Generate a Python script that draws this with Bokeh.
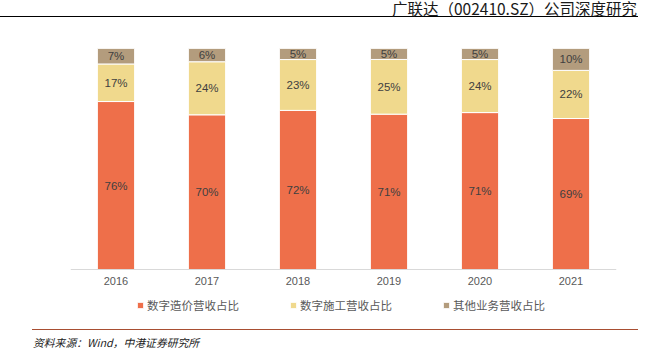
import numpy as np
from bokeh.plotting import figure
from bokeh.models import ColumnDataSource, Range1d, FactorRange, Div, CategoricalAxis
from bokeh.core.properties import value
from bokeh.layouts import column
from bokeh.embed import file_html
from bokeh.resources import INLINE

# ---- data ----
years = ["2016", "2017", "2018", "2019", "2020", "2021"]
pricing = [76, 70, 72, 71, 71, 69]      # 数字造价营收占比
construction = [17, 24, 23, 25, 24, 22]  # 数字施工营收占比
other = [7, 6, 5, 5, 5, 10]              # 其他业务营收占比
series_names = ["数字造价营收占比", "数字施工营收占比", "其他业务营收占比"]
colors = ["#EE6F4A", "#F0D98D", "#B39C7D"]
title_text = "广联达（002410.SZ）公司深度研究"
source_text = "资料来源：Wind，中港证券研究所"

W = 654
CJK = "Noto Sans CJK SC"
LAT = "Liberation Sans"

# ---- header (HTML) ----
hdr_html = (
    '<div style="position:relative;width:654px;height:24px;">'
    '<div style="position:absolute;left:0px;top:16px;width:638px;height:0px;'
    'border-top:1.6px solid #000;"></div>'
    '<div style="position:absolute;right:17px;top:1px;font-family:\'Noto Sans CJK SC\';'
    'font-size:15.5px;line-height:15px;color:#1a1a1a;white-space:nowrap;">'
    + title_text + '</div></div>'
)
hdr = Div(text=hdr_html, width=W, height=24, margin=0)

# ---- main chart ----
raw = np.array([pricing, construction, other], dtype=float)
shares = raw / raw.sum(axis=0)
keys = ["s0", "s1", "s2"]
data = {"years": years}
for k, row in zip(keys, shares):
    data[k] = row
src = ColumnDataSource(data)

PX_PER_UNIT = 221.0   # pixels for 100%
BELOW = 53.0          # pixels of frame below the baseline
p = figure(width=W, height=298, output_backend="svg", toolbar_location=None,
           x_range=FactorRange(*years, range_padding=0),
           y_range=Range1d(-BELOW / PX_PER_UNIT, 1),
           x_axis_location=None, y_axis_location=None,
           min_border_left=70, min_border_right=38, min_border_top=24,
           min_border_bottom=0)
p.vbar_stack(keys, x="years", width=0.41, color=colors, source=src,
             line_color="white", line_width=1, legend_label=series_names)

# segment labels
lx, ly, lt = [], [], []
cum = np.zeros(len(years))
for row, rawrow in zip(shares, raw):
    mids = cum + row / 2
    for i, yr in enumerate(years):
        lx.append(yr)
        ly.append(mids[i])
        lt.append(f"{int(rawrow[i])}%")
    cum = cum + row
p.text(x=lx, y=ly, text=lt, text_align="center", text_baseline="middle",
       text_font=value(LAT), text_font_size="11.5px", text_color="#404040")

xax = CategoricalAxis(fixed_location=0)
xax.axis_line_color = "#D9D9D9"
xax.axis_line_width = 1
xax.major_tick_line_color = None
xax.major_tick_out = 0
xax.major_tick_in = 0
xax.minor_tick_line_color = None
xax.major_label_standoff = 7
xax.major_label_text_font = LAT
xax.major_label_text_font_size = "11px"
xax.major_label_text_color = "#595959"
p.add_layout(xax, "below")

p.grid.visible = False
p.outline_line_color = None

lg = p.legend[0]
lg.orientation = "horizontal"
lg.location = (66, 9)
lg.border_line_color = None
lg.background_fill_alpha = 0
lg.padding = 0
lg.margin = 0
lg.glyph_width = 8
lg.glyph_height = 8
lg.label_standoff = 3
lg.spacing = 50
lg.label_text_font = CJK
lg.label_text_font_size = "11.5px"
lg.label_text_color = "#595959"
lg.label_height = 16

# ---- footer (HTML) ----
ftr_html = (
    '<div style="position:relative;width:654px;height:27px;overflow:hidden;">'
    '<div style="position:absolute;left:32px;top:7px;width:606px;height:0px;'
    'border-top:1.5px solid #A84E32;"></div>'
    '<div style="position:absolute;left:33px;top:13px;font-family:\'Noto Sans CJK SC\';'
    'font-style:italic;font-size:10.8px;line-height:14px;color:#222;white-space:nowrap;">'
    + source_text + '</div></div>'
)
ftr = Div(text=ftr_html, width=W, height=27, margin=0)

layout = column(hdr, p, ftr, spacing=0)
open("out.html", "w").write(file_html(layout, INLINE))
